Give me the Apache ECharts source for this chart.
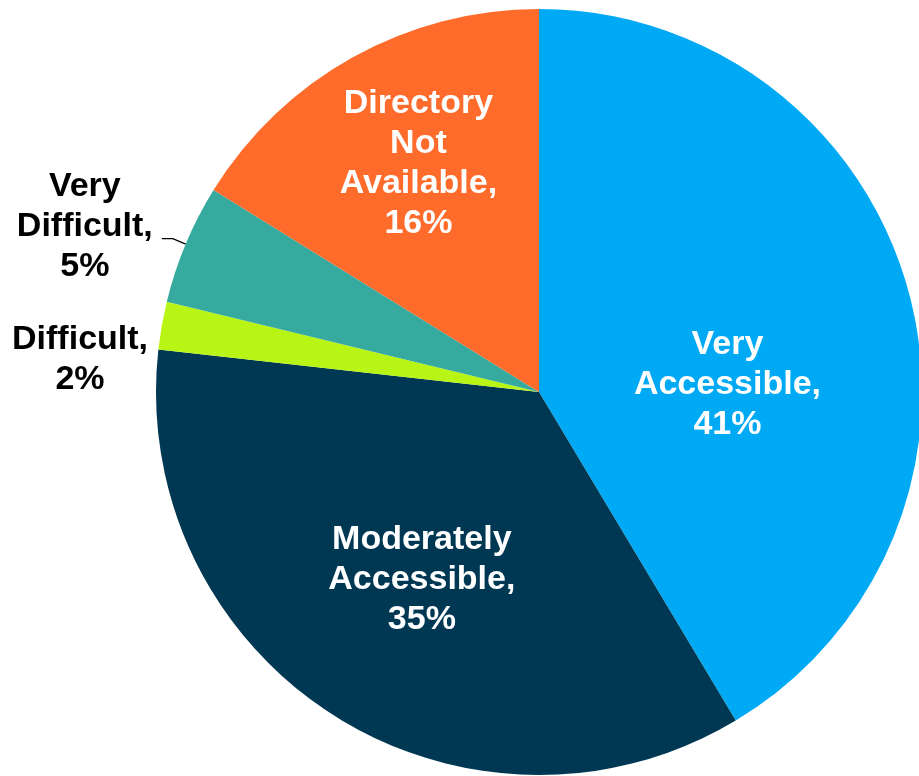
<!DOCTYPE html>
<html>
<head>
<meta charset="utf-8">
<script src="https://cdn.jsdelivr.net/npm/echarts@6/dist/echarts.min.js"></script>
<style>
  html, body { margin: 0; padding: 0; background: #ffffff; }
  #chart { width: 919px; height: 776px; }
</style>
</head>
<body>
<div id="chart"></div>
<script>
// Directory accessibility shares, clockwise from 12 o'clock
const categories = ['Very\nAccessible', 'Moderately\nAccessible', 'Difficult', 'Very\nDifficult', 'Directory\nNot\nAvailable'];
const shares = [41, 35, 2, 5, 16];

// Slice colours
const sliceColors = ['#00A9F4', '#003853', '#B8F515', '#37AA9F', '#FF6B2B'];

// Which labels sit inside their slice
const insideLabel = [true, true, false, false, true];

// Label nudges (dx, dy) and alignment applied after ECharts places labels
const labelNudge = [
  { dx: 1, dy: 44 },
  { dx: -12, dy: 24 },
  { dx: -52, dy: 37, align: 'center' },
  { dx: -72, dy: -12, align: 'center' },
  { dx: -26, dy: -58 }
];

const fontFamily = '"Liberation Sans", Arial, Helvetica, sans-serif';

const chart = echarts.init(document.getElementById('chart'), null, { renderer: 'canvas' });

const data = categories.map((name, i) => ({
  name: name,
  value: shares[i],
  itemStyle: { color: sliceColors[i] },
  label: {
    position: insideLabel[i] ? 'inside' : 'outside',
    color: insideLabel[i] ? '#ffffff' : '#000000'
  },
  labelLine: { show: i === 3 }
}));

chart.setOption({
  animation: false,
  backgroundColor: '#ffffff',
  series: [{
    type: 'pie',
    center: [539, 392],
    radius: 383,
    startAngle: 90,
    clockwise: true,
    avoidLabelOverlap: false,
    itemStyle: { borderWidth: 0 },
    emphasis: { disabled: true },
    label: {
      show: true,
      formatter: p => `${p.name},\n${p.value}%`,
      fontFamily: fontFamily,
      fontWeight: 'bold',
      fontSize: 34,
      lineHeight: 40,
      align: 'center'
    },
    labelLine: {
      show: false,
      length: 14,
      length2: 11,
      smooth: false,
      lineStyle: { color: '#000000', width: 1.3 }
    },
    labelLayout: params => {
      const n = labelNudge[params.dataIndex];
      const out = { dx: n.dx, dy: n.dy };
      if (n.align) out.align = n.align;
      return out;
    },
    data: data
  }]
});
</script>
</body>
</html>
